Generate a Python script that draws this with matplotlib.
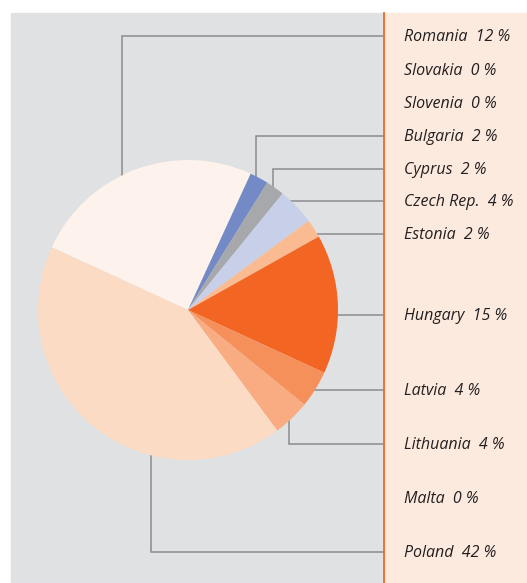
import matplotlib
matplotlib.use("Agg")
import matplotlib.pyplot as plt
from matplotlib.patches import Rectangle

# pie shares as drawn (degrees of the wheel, in %), clockwise from Romania
slice_names = ["Romania", "Bulgaria", "Cyprus", "Czech Rep.", "Estonia",
               "Hungary", "Latvia", "Lithuania", "Poland"]
slice_shares = [25, 2, 2, 4, 2, 15, 4, 4, 42]
slice_colors = ["#fdf3ec", "#738ac6", "#a6a8ab", "#c8d0e9", "#fabb92",
                "#f26522", "#f6905a", "#f9ac82", "#fbdbc4"]

# legend text on the right
label_names = ["Romania", "Slovakia", "Slovenia", "Bulgaria", "Cyprus", "Czech Rep.",
               "Estonia", "Hungary", "Latvia", "Lithuania", "Malta", "Poland"]
label_pcts = [12, 0, 0, 2, 2, 4, 2, 15, 4, 4, 0, 42]
label_y = [36, 70, 103, 136, 169, 201, 234, 315, 390, 444, 498, 552]

# leader lines: (name, x of elbow, y where line starts)
leaders = [("Romania", 122, 190), ("Bulgaria", 256, 190), ("Cyprus", 273, 200),
           ("Czech Rep.", 290, 215), ("Estonia", 300, 240), ("Hungary", 320, 320),
           ("Latvia", 300, 400), ("Lithuania", 289, 420), ("Poland", 151, 440)]

W, H = 527, 583
fig = plt.figure(figsize=(W / 100, H / 100), dpi=100)
ax = fig.add_axes([0, 0, 1, 1])

def fy(y):
    # picture rows -> axes y
    return H - y

# panels
ax.add_patch(Rectangle((11, 0), 372, fy(13), color="#e0e1e3", zorder=0))
ax.add_patch(Rectangle((383, 0), W - 383, fy(13), color="#fdeadf", zorder=0))
ax.plot([383.5, 383.5], [0, fy(13)], color="#f26522", lw=1.3, zorder=1)

# leader lines (drawn under the pie)
for name, x0, y0 in leaders:
    ty = label_y[label_names.index(name)]
    ax.plot([x0, x0, 383], [fy(y0), fy(ty), fy(ty)], color="#8a8c8e",
            lw=1.1, zorder=1, solid_joinstyle="miter")

# pie
ax.pie(slice_shares, colors=slice_colors, startangle=155.3, counterclock=False,
       center=(188, fy(310)), radius=150, frame=True,
       wedgeprops=dict(linewidth=0, zorder=2))
ax.set_xlim(0, W)
ax.set_ylim(0, H)
ax.set_aspect("equal")
ax.axis("off")

for name, pct, y in zip(label_names, label_pcts, label_y):
    ax.text(404, fy(y + 1), f"{name}  {pct} %", fontsize=11.5, style="italic",
            family=["Open Sans", "DejaVu Sans"], color="#231f20",
            va="center", ha="left", zorder=3)

fig.savefig("out.png", dpi=100)
